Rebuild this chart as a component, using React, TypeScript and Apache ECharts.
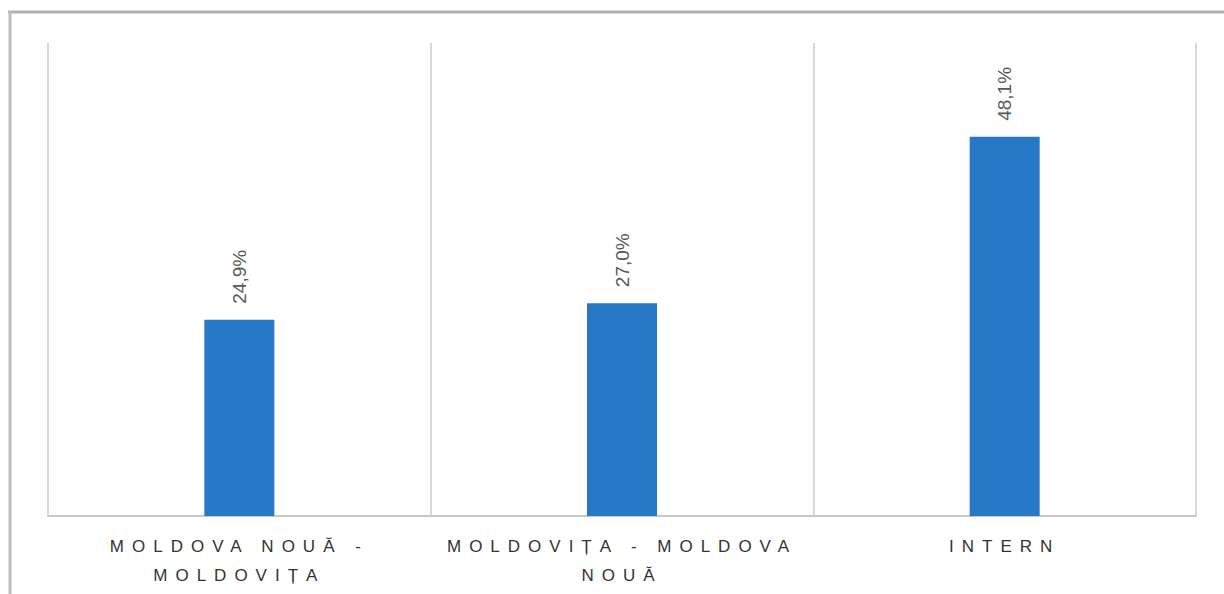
import React, { useEffect, useRef } from "react";
import * as echarts from "echarts";

const categories: string[] = ["MOLDOVA NOUĂ -\nMOLDOVIȚA", "MOLDOVIȚA - MOLDOVA\nNOUĂ", "INTERN"];
const shares: number[] = [24.9, 27.0, 48.1];
const valueMax = 60;

const CAT_COLOR = "#333334";

export default function App() {
  const ref = useRef<HTMLDivElement>(null);
  useEffect(() => {
    if (!ref.current) return;
    const chart = echarts.init(ref.current, undefined, { renderer: "svg" });
    chart.setOption({
      animation: false,
      backgroundColor: "#ffffff",
      grid: { left: 48, right: 28, top: 43, bottom: 78, containLabel: false },
      xAxis: {
        type: "category",
        data: categories,
        boundaryGap: true,
        axisLine: { show: true, lineStyle: { color: "#c8c8c8", width: 2 } },
        axisTick: { show: false },
        splitLine: { show: true, interval: 0, lineStyle: { color: "#d9d9d9", width: 2 } },
        axisLabel: {
          interval: 0,
          margin: 16,
          color: CAT_COLOR,
          fontSize: 17,
          lineHeight: 29,
          fontFamily: "'Liberation Sans', Arial, sans-serif",
          align: "center",
        },
      },
      yAxis: {
        type: "value",
        min: 0,
        max: valueMax,
        show: false,
        splitLine: { show: false },
      },
      series: [
        {
          type: "bar",
          data: shares,
          barWidth: 70,
          itemStyle: { color: "#2878c8" },
          label: {
            show: true,
            position: "top",
            rotate: 90,
            align: "left",
            verticalAlign: "middle",
            distance: 16,
            color: "#595959",
            fontSize: 19,
            fontFamily: "'Liberation Sans', Arial, sans-serif",
            formatter: (p: any) => p.value.toFixed(1).replace(".", ",") + "%",
          },
        },
      ],
      graphic: [
        {
          type: "line",
          shape: { x1: 8, y1: 12, x2: 1224, y2: 12 },
          style: { stroke: "#b0b0b0", lineWidth: 3 },
        },
        {
          type: "line",
          shape: { x1: 10, y1: 11, x2: 10, y2: 594 },
          style: { stroke: "#bcbcbc", lineWidth: 3 },
        },
      ],
    });
    return () => chart.dispose();
  }, []);
  return (
    <>
      <style>{`.chartbox text[fill="${CAT_COLOR}"] { letter-spacing: 8px; }`}</style>
      <div
        className="chartbox"
        ref={ref}
        style={{ position: "absolute", left: 0, top: 0, width: 1224, height: 594 }}
      />
    </>
  );
}
